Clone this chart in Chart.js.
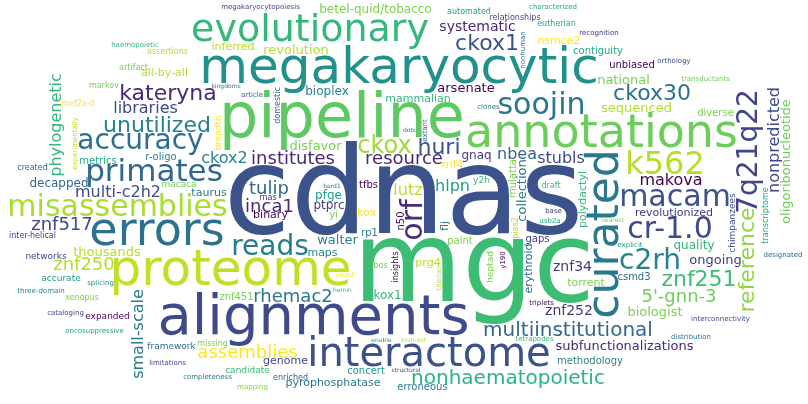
<!DOCTYPE html>
<html><head><meta charset="utf-8">
<script src="https://cdn.jsdelivr.net/npm/chart.js@4"></script>
<style>html,body{margin:0;padding:0;background:#fff}#wrap{width:808px;height:404px}</style>
</head><body><div id="wrap"><canvas id="c"></canvas></div>
<script>
const words=["cdnas","mgc","pipeline","alignments","megakaryocytic","proteome","annotations","curated","errors","interactome","evolutionary","misassemblies","primates","soojin","accuracy","macam","k562","orf","cr-1.0","reads","c2rh","7q21q22","unutilized","multiinstitutional","kateryna","huri","ckox","ckox1","ckox30","znf251","nonhaematopoietic","reference","inca1","institutes","5'-gnn-3","rhemac2","assemblies","libraries","znf250","znf517","resource","tulip","phylogenetic","nonpredicted","small-scale","lutz","stubls","nbea","ckox2","hlpn","multi-c2h2","makova","znf252","znf34","systematic","sequenced","oligoribonucleotide","thousands","revolution","disfavor","arsenate","collection","biologist","national","ongoing","bioplex","walter","ptprc","quality","decapped","pfge","gnaq","mammalian","maps","kox1","kox","metrics","tfbs","subfunctionalizations","revolutionized","torrent","binary","all-by-all","polydactyl","pyrophosphatase","taurus","flj","prg4","inferred","genome","betel-quid/tobacco","concert","rp1","n50","znf451","rnf4","r-oligo","nsmce2","erythroid","contiguity","paint","yi","csmd3","unbiased","methodology","mulatta","erroneous","diverse","gaps","national","chimpanzees","macaca","candidate","framework","expanded","heptad","y2h","breadth","missing","domestic","xenopus","accurate","networks","inter-helical","enriched","created","draft","bos","mef2a-d","pias2","rnas","assertions","automated","markov","relationships","artifact","transcriptome","eutherian","insights","recognition","transductants","interconnectivity","triplets","clones","orthology","usb2a","tetrapodes","explicit","article","designated","distribution","extant","base","mapping","therian","y190","splicing","completeness","nonhuman","oncosuppressive","experimentally","limitations","three-domain","megakaryocytopoiesis","yeast","cataloging","haemopoietic","characterized","krab-znf","bard1","dots","nearest","enable","structural","kingdoms","hemin","project","organization","twenty-six","yrpw","covers","tscc","non-capped"];
const sizes=[122,112,62,56,50,50,46,44,46,40,38,30,31,30,28,30,32,30,30,28,28,28,22,20,22,22,24,22,22,22,20,22,18,18,18,18,18,16,18,18,18,18,16,16,16,16,16,16,16,16,16,16,14,14,14,13,13,13,13,13,13,13,13,13,13,12,13,12,12,12,12,12,11,11,12,11,10,10,13,11,11,11,11,11,11,11,11,11,11,11,12,10,10,10,10,11,10,11,11,10,10,10,10,10,10,10,10,10,10,9,9,9,9,9,9,9,9,9,8,8,8,9,9,8,8,8,8,8,8,8,8,8,8,8,8,8,8,8,8,7,7,7,7,7,7,7,7,7,7,7,7,7,7,7,7,7,7,7,7,7,7,7,7,7,7,7,7,7,6,6,6,6,6,6,6,6];
const rotatedWords=["curated","orf","7q21q22","reference","phylogenetic","nonpredicted","small-scale","oligoribonucleotide","polydactyl","transcriptome","n50","flj","heptad","breadth","tscc","y190","extant","insights","chimpanzees","mulatta","nonhuman","experimentally","therian","domestic","collection","pias2","erythroid"];
const fixedColors={"cdnas":"#3b528b","mgc":"#3dbc74","pipeline":"#5ec962","alignments":"#3e4a89","megakaryocytic":"#21918c","proteome":"#c0df25","annotations":"#6ccd5a","curated":"#2a788e","errors":"#2c728e","interactome":"#3b528b","evolutionary":"#35b779","misassemblies":"#aadc32","primates":"#31688e","soojin":"#2a788e","accuracy":"#2e6e8e","macam":"#3a538b","k562":"#b5de2b","orf":"#472d7b","cr-1.0":"#3e4a89","reads":"#287c8e","c2rh":"#26828e","7q21q22":"#414487","kateryna":"#482878","huri":"#3b528b","ckox":"#a2da37","ckox1":"#3b528b","ckox30":"#2c728e","znf251":"#3fbc73","nonhaematopoietic":"#2db27d","reference":"#90d743"};
const palette=["#440154","#482878","#3e4989","#31688e","#26828e","#1f9e89","#35b779","#6ece58","#b5de2b","#fde725","#443a83","#2a788e","#22a884","#7ad151"];
function hash(s){let h=7;for(const ch of s)h=(h*31+ch.charCodeAt(0))>>>0;return h;}

const cloudPlugin={id:'cloud',afterDraw(chart){
  const ctx=chart.ctx,W=chart.width,H=chart.height,G=2;
  const gw=Math.ceil(W/G),gh=Math.ceil(H/G);const board=new Uint8Array(gw*gh);
  const off=document.createElement('canvas');const oc=off.getContext('2d',{willReadFrequently:true});
  const placed=new Set();
  words.forEach((w,i)=>{
    if(placed.has(w))return;placed.add(w);
    let size=sizes[i];const rot=rotatedWords.includes(w);
    const color=fixedColors[w]||palette[hash(w)%palette.length];
    while(size>=5){
      const font=size+'px "DejaVu Sans"';oc.font=font;
      const m=oc.measureText(w);
      const tw=Math.ceil(m.width)+2,th=Math.ceil(size*1.15)+2;
      const bw=rot?th:tw,bh=rot?tw:th;
      off.width=bw;off.height=bh;oc.font=font;oc.fillStyle='#000';oc.textBaseline='middle';oc.textAlign='center';
      oc.save();oc.translate(bw/2,bh/2);if(rot)oc.rotate(-Math.PI/2);oc.fillText(w,0,0);oc.restore();
      const data=oc.getImageData(0,0,bw,bh).data;
      const sw=Math.ceil(bw/G),sh=Math.ceil(bh/G);const cells=[];
      for(let y=0;y<sh;y++)for(let x=0;x<sw;x++){
        let on=false;
        for(let dy=0;dy<G&&!on;dy++)for(let dx=0;dx<G&&!on;dx++){const px=x*G+dx,py=y*G+dy;if(px<bw&&py<bh&&data[(py*bw+px)*4+3]>20)on=true;}
        if(on)cells.push(x,y);
      }
      let ok=false,fx=0,fy=0;
      const cx=gw/2-sw/2,cy=gh/2-sh/2;
      for(let t=0;t<900;t+=0.12){
        const r=1.2*t;const gx=Math.round(cx+r*Math.cos(t)*2),gy=Math.round(cy+r*Math.sin(t));
        if(gx<1||gy<1||gx+sw>=gw-1||gy+sh>=gh-1){if(r>gw)break;continue;}
        let hit=false;
        for(let k=0;k<cells.length;k+=2){if(board[(gy+cells[k+1])*gw+gx+cells[k]]){hit=true;break;}}
        if(!hit){ok=true;fx=gx;fy=gy;break;}
      }
      if(ok){
        for(let k=0;k<cells.length;k+=2)board[(fy+cells[k+1])*gw+fx+cells[k]]=1;
        ctx.save();ctx.font=font;ctx.fillStyle=color;ctx.textBaseline='middle';ctx.textAlign='center';
        ctx.translate(fx*G+bw/2,fy*G+bh/2);if(rot)ctx.rotate(-Math.PI/2);ctx.fillText(w,0,0);ctx.restore();
        break;
      }
      size=Math.floor(size*0.85);
    }
  });
}};
new Chart(document.getElementById('c'),{type:'bar',data:{labels:[],datasets:[{data:[]}]},
options:{responsive:true,maintainAspectRatio:false,animation:false,events:[],
plugins:{legend:{display:false},tooltip:{enabled:false}},scales:{x:{display:false},y:{display:false}},layout:{padding:0}},
plugins:[cloudPlugin]});
</script></body></html>
